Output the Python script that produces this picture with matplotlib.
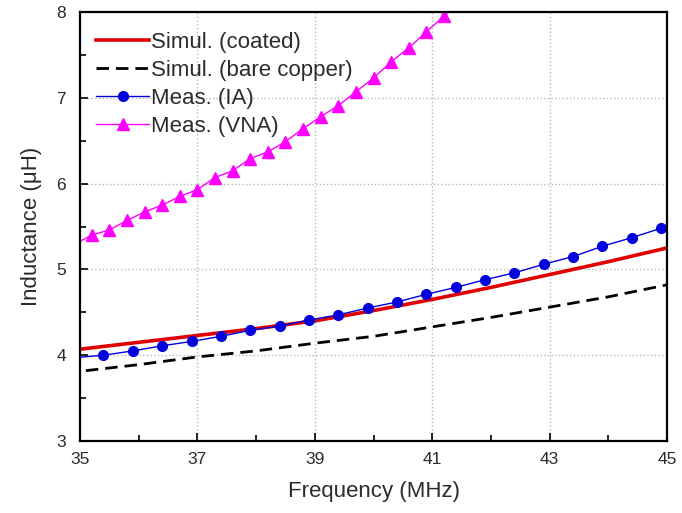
import numpy as np
import matplotlib.pyplot as plt
from matplotlib.ticker import MultipleLocator

plt.rcParams['font.family'] = ['Liberation Sans', 'DejaVu Sans']

# simulated inductance, coated wire (uH vs MHz)
f_coat = [35, 36, 37, 38, 39, 40, 41, 42, 43, 44, 45]
L_coat = [4.07, 4.15, 4.23, 4.31, 4.40, 4.52, 4.65, 4.79, 4.94, 5.09, 5.25]

# simulated inductance, bare copper
f_bare = [35.1, 36, 37, 38, 39, 40, 41, 42, 43, 44, 45]
L_bare = [3.82, 3.89, 3.98, 4.05, 4.14, 4.22, 4.33, 4.44, 4.56, 4.68, 4.82]

# measured with impedance analyzer
f_ia = [34.9, 35.4, 35.9, 36.4, 36.9, 37.4, 37.9, 38.4, 38.9, 39.4, 39.9,
        40.4, 40.9, 41.4, 41.9, 42.4, 42.9, 43.4, 43.9, 44.4, 44.9]
L_ia = [3.97, 4.00, 4.05, 4.11, 4.16, 4.22, 4.29, 4.34, 4.41, 4.47, 4.55,
        4.62, 4.71, 4.79, 4.88, 4.96, 5.06, 5.15, 5.27, 5.37, 5.48]

# measured with VNA
f_vna = [34.9, 35.2, 35.5, 35.8, 36.1, 36.4, 36.7, 37.0, 37.3, 37.6, 37.9,
         38.2, 38.5, 38.8, 39.1, 39.4, 39.7, 40.0, 40.3, 40.6, 40.9, 41.2, 41.5]
L_vna = [5.29, 5.40, 5.46, 5.57, 5.67, 5.75, 5.85, 5.93, 6.07, 6.15, 6.29,
         6.37, 6.49, 6.64, 6.78, 6.91, 7.07, 7.23, 7.42, 7.58, 7.77, 7.95, 8.15]

xticks = [35, 37, 39, 41, 43, 45]
xminor = [36, 38, 40, 42, 44]

txt = '#2b2b2b'

fig = plt.figure(figsize=(6.82, 5.13), dpi=100)
ax = fig.add_axes([80/682, 1 - 441/513, 587/682, 429/513])

ax.plot(f_coat, L_coat, color='#e00000', lw=2.6, label='Simul. (coated)')
ax.plot(f_bare, L_bare, color='black', lw=2.0, dashes=(4.5, 2.5),
        label='Simul. (bare copper)')
ax.plot(f_ia, L_ia, color='#0000dd', lw=1.0, marker='o', ms=7,
        label='Meas. (IA)')
ax.plot(f_vna, L_vna, color='#ff00ff', lw=1.0, marker='^', ms=8.5,
        label='Meas. (VNA)')

ax.set_xlim(35, 45)
ax.set_ylim(3, 8)
ax.set_xticks(xticks)
ax.set_xticks(xminor, minor=True)
ax.yaxis.set_major_locator(MultipleLocator(1))
ax.yaxis.set_minor_locator(MultipleLocator(0.5))
ax.tick_params(which='both', direction='in', colors='black',
               labelcolor=txt, labelsize=12.5)
ax.tick_params(axis='x', which='major', length=6, width=1.2, pad=8)
ax.tick_params(axis='y', which='major', length=6, width=1.2, pad=10)
ax.tick_params(which='minor', length=4, width=1.2)

ax.grid(True, which='major', color='#b8b8b8', ls=':', lw=1.0)
for s in ax.spines.values():
    s.set_linewidth(1.6)

ax.set_xlabel('Frequency (MHz)', fontsize=16, color=txt, labelpad=10)
ax.set_ylabel('Inductance (\u03bcH)', fontsize=16, color=txt, labelpad=10)

leg = ax.legend(loc='upper left', frameon=False, fontsize=16, numpoints=1,
                handlelength=2.4, handletextpad=0.1, labelspacing=0.32,
                borderaxespad=0.0, bbox_to_anchor=(0.012, 0.975))
for t in leg.get_texts():
    t.set_color(txt)

fig.savefig('out.png', dpi=100)
